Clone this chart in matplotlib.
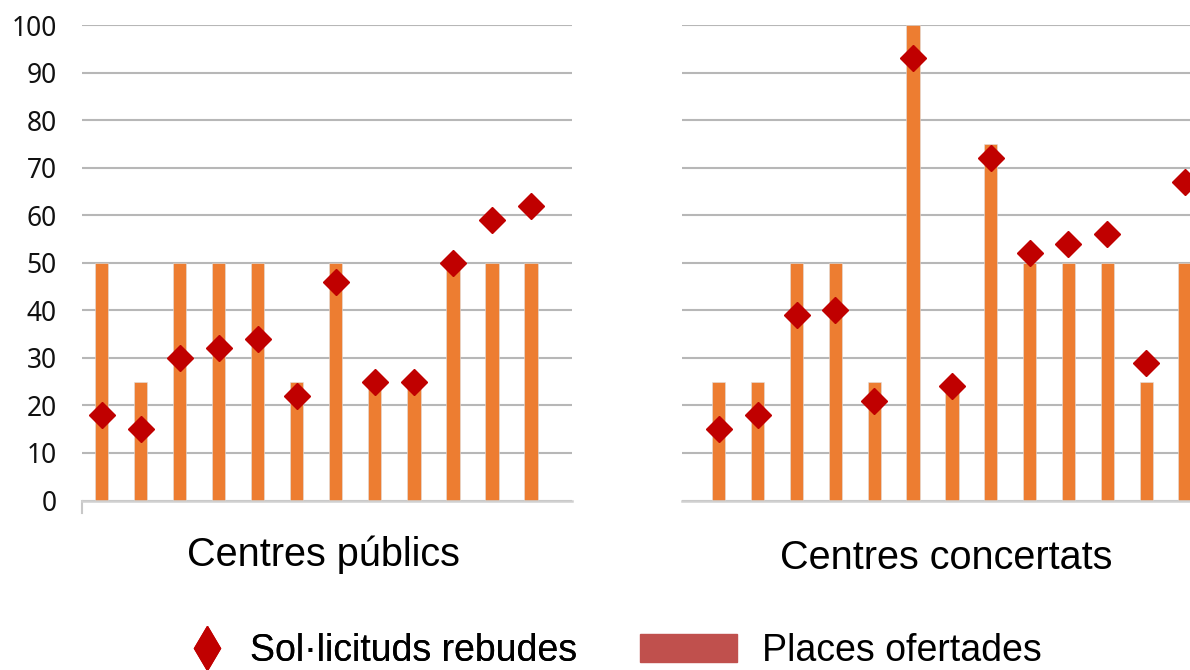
import matplotlib
matplotlib.use("Agg")
import matplotlib.pyplot as plt
from matplotlib.lines import Line2D
from matplotlib.patches import Patch

# Data
public_places = [50, 25, 50, 50, 50, 25, 50, 25, 25, 50, 50, 50]
public_requests = [18, 15, 30, 32, 34, 22, 46, 25, 25, 50, 59, 62]
private_places = [25, 25, 50, 50, 25, 100, 25, 75, 50, 50, 50, 25, 50]
private_requests = [15, 18, 39, 40, 21, 93, 24, 72, 52, 54, 56, 29, 67]
yticks = [0, 10, 20, 30, 40, 50, 60, 70, 80, 90, 100]
titles = ["Centres públics", "Centres concertats"]
legend_labels = ["Sol·licituds rebudes", "Places ofertades"]

BAR = "#ED7D31"
DIAM = "#C00000"
LEG_RECT = "#C0504D"
GRID = "#b7b7b7"

W, H = 1190, 670
fig = plt.figure(figsize=(W / 100, H / 100), dpi=100)

def px_axes(x0, x1, ytop, ybot):
    return fig.add_axes([x0 / W, 1 - ybot / H, (x1 - x0) / W, (ybot - ytop) / H])

ax1 = px_axes(82, 572, 25, 500.5)
ax2 = px_axes(682, 1190, 25, 500.5)

def draw(ax, places, reqs, xlim):
    x = list(range(len(places)))
    ax.bar(x, places, width=0.34, color=BAR, edgecolor="#e0e0e0", linewidth=0.4, zorder=2)
    ax.plot(x, reqs, linestyle="none", marker="D", markersize=13,
            color=DIAM, markeredgecolor=DIAM, zorder=3, clip_on=False)
    ax.set_ylim(0, 100)
    ax.set_xlim(*xlim)
    ax.set_yticks(yticks)
    ax.yaxis.grid(True, color=GRID, linewidth=1.5, zorder=0)
    ax.set_axisbelow(True)
    ax.set_xticks([])
    for s in ["top", "right", "left"]:
        ax.spines[s].set_visible(False)
    ax.spines["bottom"].set_color("#d0d0d0")
    ax.spines["bottom"].set_linewidth(1.8)
    ax.tick_params(axis="y", length=0, pad=18, labelsize=19)

draw(ax1, public_places, public_requests, (-0.5, 12.05))
draw(ax2, private_places, private_requests, (-0.95, 12.13))
ax2.set_yticklabels([])
ax2.tick_params(axis="y", length=0)
for lab in ax1.get_yticklabels():
    lab.set_fontfamily("Noto Sans")
    lab.set_color("#111111")

# small stub below the left axis origin
ax1.spines["left"].set_visible(True)
ax1.spines["left"].set_bounds(-2.6, 0)
ax1.spines["left"].set_color("#c8c8c8")
ax1.spines["left"].set_linewidth(1.5)

fig.text(323 / W, 1 - 555 / H, titles[0], ha="center", va="center",
         fontsize=28.5, family="Liberation Sans")
fig.text(946 / W, 1 - 558 / H, titles[1], ha="center", va="center",
         fontsize=28.5, family="Liberation Sans")

h1 = Line2D([], [], linestyle="none", marker="d", markersize=22,
            color=DIAM, markeredgecolor=DIAM)
h2 = Patch(facecolor=LEG_RECT, edgecolor=LEG_RECT)
leg1 = fig.legend([h1], [legend_labels[0]], loc="center left",
                  bbox_to_anchor=(188.5 / W, 1 - 651 / H), frameon=False,
                  prop={"family": "Liberation Sans", "size": 27},
                  handlelength=1.0, handletextpad=0.64, borderaxespad=0, borderpad=0)
fig.add_artist(leg1)
leg2 = fig.legend([h2], [legend_labels[1]], loc="center left",
                  bbox_to_anchor=(640 / W, 1 - 651 / H), frameon=False,
                  prop={"family": "Liberation Sans", "size": 27},
                  handlelength=2.59, handleheight=0.77, handletextpad=0.67,
                  borderaxespad=0, borderpad=0)

fig.savefig("out.png", dpi=100)
